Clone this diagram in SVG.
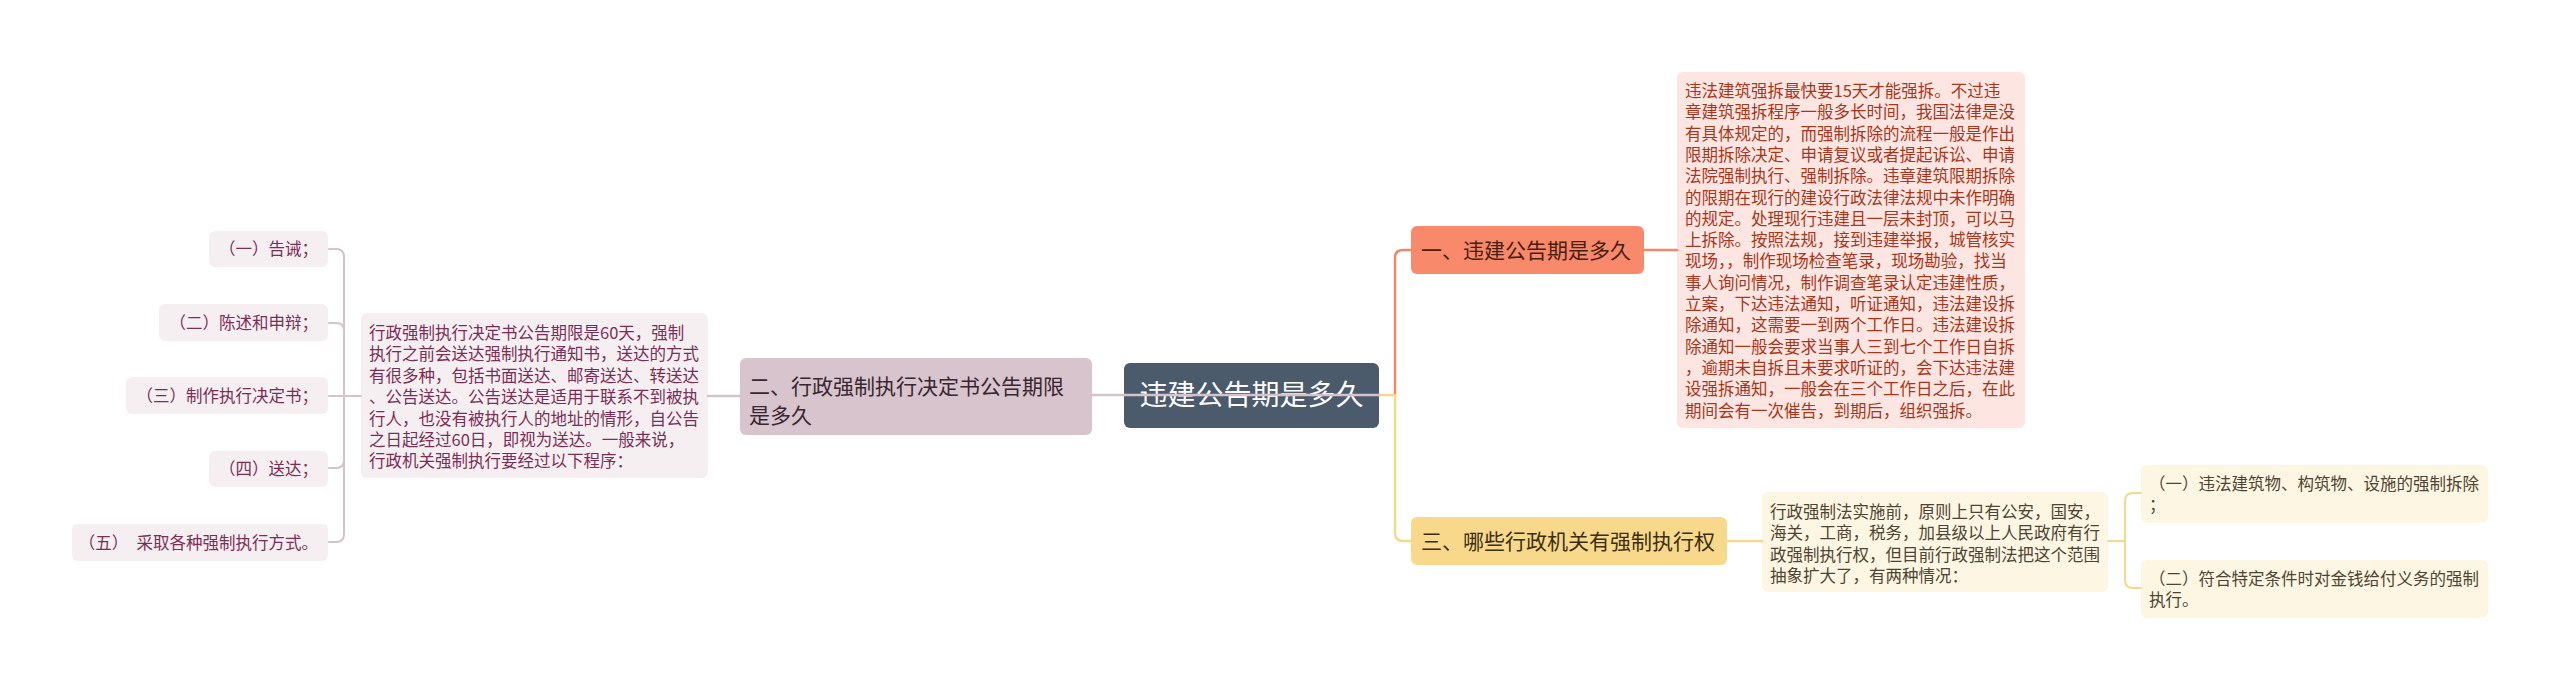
<svg xmlns="http://www.w3.org/2000/svg" width="2560" height="690" viewBox="0 0 2560 690">
<style>
text{font-family:"Noto Sans CJK SC","Noto Sans",sans-serif;}
.c{fill:none;stroke-linecap:round;stroke-linejoin:round;}
.or{stroke:#f3866a;stroke-width:2.5;}
.ye{stroke:#f5d98b;stroke-width:2.5;}
.pk{stroke:#d5c3cb;stroke-width:2.5;}
.t16{font-size:16.5px;}
.pinkbox{fill:#fde6e1;}
.pinktxt{fill:#a8361c;}
.yelbox{fill:#fdf6e3;}
.yeltxt{fill:#4f4431;}
.mauvebox{fill:#f6eff2;}
.mauvetxt{fill:#7b2e55;}
</style>
<rect width="2560" height="690" fill="#ffffff"/>

<g id="root">
<rect x="1124" y="363" width="255" height="65" rx="6" fill="#4b5b6b"/>
<text x="1251.5" y="405" font-size="28" fill="#ffffff" text-anchor="middle">违建公告期是多久</text>
</g>

<g id="b1">
<rect x="1411" y="226" width="233" height="48" rx="6" fill="#f8896b"/>
<text x="1421" y="258" font-size="21" fill="#4a1e10">一、违建公告期是多久</text>
</g>

<g id="b1-detail">
<rect class="pinkbox" x="1677" y="72" width="348" height="356" rx="6"/>
<text class="t16 pinktxt" x="1685">
<tspan x="1685" y="97">违法建筑强拆最快要15天才能强拆。不过违</tspan>
<tspan x="1685" y="118.3">章建筑强拆程序一般多长时间，我国法律是没</tspan>
<tspan x="1685" y="139.6">有具体规定的，而强制拆除的流程一般是作出</tspan>
<tspan x="1685" y="160.9">限期拆除决定、申请复议或者提起诉讼、申请</tspan>
<tspan x="1685" y="182.2">法院强制执行、强制拆除。违章建筑限期拆除</tspan>
<tspan x="1685" y="203.5">的限期在现行的建设行政法律法规中未作明确</tspan>
<tspan x="1685" y="224.8">的规定。处理现行违建且一层未封顶，可以马</tspan>
<tspan x="1685" y="246.1">上拆除。按照法规，接到违建举报，城管核实</tspan>
<tspan x="1685" y="267.4">现场，，制作现场检查笔录，现场勘验，找当</tspan>
<tspan x="1685" y="288.7">事人询问情况，制作调查笔录认定违建性质，</tspan>
<tspan x="1685" y="310">立案，下达违法通知，听证通知，违法建设拆</tspan>
<tspan x="1685" y="331.3">除通知，这需要一到两个工作日。违法建设拆</tspan>
<tspan x="1685" y="352.6">除通知一般会要求当事人三到七个工作日自拆</tspan>
<tspan x="1685" y="373.9">，逾期未自拆且未要求听证的，会下达违法建</tspan>
<tspan x="1685" y="395.2">设强拆通知，一般会在三个工作日之后，在此</tspan>
<tspan x="1685" y="416.5">期间会有一次催告，到期后，组织强拆。</tspan>
</text>
</g>

<g id="b3">
<rect x="1411" y="517" width="316" height="48" rx="6" fill="#f8d98b"/>
<text x="1421" y="549" font-size="21" fill="#3b2e0f">三、哪些行政机关有强制执行权</text>
</g>

<g id="b3-detail">
<rect class="yelbox" x="1762" y="492" width="346" height="100" rx="6"/>
<text class="t16 yeltxt">
<tspan x="1770" y="518">行政强制法实施前，原则上只有公安，国安，</tspan>
<tspan x="1770" y="539.3">海关，工商，税务，加县级以上人民政府有行</tspan>
<tspan x="1770" y="560.6">政强制执行权，但目前行政强制法把这个范围</tspan>
<tspan x="1770" y="581.9">抽象扩大了，有两种情况：</tspan>
</text>
</g>

<g id="b3-c1">
<rect class="yelbox" x="2141" y="465" width="347" height="58" rx="6"/>
<text class="t16 yeltxt">
<tspan x="2149" y="490">（一）违法建筑物、构筑物、设施的强制拆除</tspan>
<tspan x="2149" y="511">；</tspan>
</text>
</g>

<g id="b3-c2">
<rect class="yelbox" x="2141" y="560" width="347" height="58" rx="6"/>
<text class="t16 yeltxt">
<tspan x="2149" y="585">（二）符合特定条件时对金钱给付义务的强制</tspan>
<tspan x="2149" y="606">执行。</tspan>
</text>
</g>

<g id="b2">
<rect x="740" y="358" width="352" height="77" rx="6" fill="#d7c4cd"/>
<text font-size="21" fill="#3a2630">
<tspan x="749" y="394">二、行政强制执行决定书公告期限</tspan>
<tspan x="749" y="423">是多久</tspan>
</text>
</g>

<g id="b2-detail">
<rect class="mauvebox" x="361" y="313" width="347" height="165" rx="6"/>
<text class="t16 mauvetxt">
<tspan x="369" y="339">行政强制执行决定书公告期限是60天，强制</tspan>
<tspan x="369" y="360.4">执行之前会送达强制执行通知书，送达的方式</tspan>
<tspan x="369" y="381.8">有很多种，包括书面送达、邮寄送达、转送达</tspan>
<tspan x="369" y="403.2">、公告送达。公告送达是适用于联系不到被执</tspan>
<tspan x="369" y="424.6">行人，也没有被执行人的地址的情形，自公告</tspan>
<tspan x="369" y="446">之日起经过60日，即视为送达。一般来说，</tspan>
<tspan x="369" y="467.4">行政机关强制执行要经过以下程序：</tspan>
</text>
</g>

<g id="b2-c1">
<rect class="mauvebox" x="209" y="231" width="119" height="36" rx="6"/>
<text class="t16 mauvetxt" x="318" y="255" text-anchor="end">（一）告诫；</text>
</g>
<g id="b2-c2">
<rect class="mauvebox" x="159" y="304" width="169" height="37" rx="6"/>
<text class="t16 mauvetxt" x="318" y="328.5" text-anchor="end">（二）陈述和申辩；</text>
</g>
<g id="b2-c3">
<rect class="mauvebox" x="126" y="377" width="202" height="37" rx="6"/>
<text class="t16 mauvetxt" x="318" y="401.5" text-anchor="end">（三）制作执行决定书；</text>
</g>
<g id="b2-c4">
<rect class="mauvebox" x="209" y="451" width="119" height="36" rx="6"/>
<text class="t16 mauvetxt" x="318" y="475" text-anchor="end">（四）送达；</text>
</g>
<g id="b2-c5">
<rect class="mauvebox" x="72" y="524" width="256" height="37" rx="6"/>
<text class="t16 mauvetxt" x="318" y="548.5" text-anchor="end">（五）　采取各种强制执行方式。</text>
</g>

<g id="connectors">
<path class="c or" d="M1395,395 L1395,258 Q1395,250 1403,250 L1411,250"/>
<path class="c or" d="M1644,250 L1677,250"/>
<path class="c ye" d="M1379,395 L1395,395 L1395,533 Q1395,541 1403,541 L1411,541"/>
<path class="c ye" d="M1727,541 L1762,541"/>
<path class="c ye" style="stroke-width:2" d="M2108,541 L2125,541"/>
<path class="c ye" style="stroke-width:2" d="M2125,541 L2125,501 Q2125,493 2133,493 L2141,493"/>
<path class="c ye" style="stroke-width:2" d="M2125,541 L2125,580 Q2125,588 2133,588 L2141,588"/>
<path class="c pk" d="M1379,395 L1092,395"/>
<path class="c pk" d="M740,396 L708,396"/>
<path class="c pk" style="stroke-width:2" d="M361,396 L344,396"/>
<path class="c pk" style="stroke-width:2" d="M344,396 L344,257 Q344,249 336,249 L329,249"/>
<path class="c pk" style="stroke-width:2" d="M344,396 L344,331 Q344,323 336,323 L329,323"/>
<path class="c pk" style="stroke-width:2" d="M344,396 L329,396"/>
<path class="c pk" style="stroke-width:2" d="M344,396 L344,460 Q344,468 336,468 L329,468"/>
<path class="c pk" style="stroke-width:2" d="M344,396 L344,534 Q344,542 336,542 L329,542"/>
</g>
</svg>
